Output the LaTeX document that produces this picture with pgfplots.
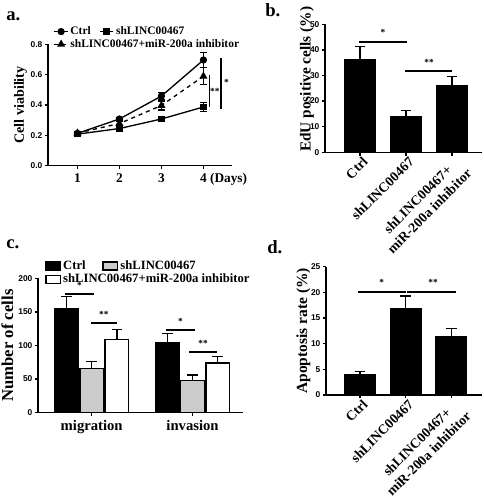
\documentclass[border=0pt]{standalone}
\usepackage{fontspec}
\setmainfont{Liberation Serif}
\newfontfamily\arialf{Liberation Sans}
\usepackage{pgfplots}
\pgfplotsset{compat=1.18}
\pgfplotsset{
  prism/.style={
    scale only axis,
    axis lines=left,
    axis line style={-, line width=1.1pt},
    tick align=outside,
    major tick length=2.5pt,
    every tick/.style={line width=1pt, black},
    /pgf/number format/assume math mode=true,
    yticklabel style={font=\arialf\bfseries\fontsize{6.3}{7}\selectfont, inner sep=1.5pt},
    clip=false,
    ymin=0,
  },
  errb/.style={error bars/.cd, y dir=plus, y explicit,
    error bar style={line width=1pt},
    error mark options={rotate=90, mark size=4pt, line width=1pt}},
  rotlab/.style={xticklabel style={rotate=45, anchor=north east, align=center, inner sep=1pt, xshift=2pt,
    font=\bfseries\fontsize{10.3}{12.5}\selectfont}},
}
\newcommand\sig{\bfseries\fontsize{7}{8}\selectfont}
\begin{document}
\begin{tikzpicture}[x=0.75pt,y=-0.75pt]
\path[use as bounding box] (0,0) rectangle (483,500);
\coordinate (A) at (48,165.7);
\coordinate (B) at (325,152.3);
\coordinate (C) at (38,412.7);
\coordinate (D) at (326,395);
% panel labels
\node[anchor=base west, inner sep=0pt, font=\bfseries\fontsize{14}{16}\selectfont] at (6,20) {a.};
\node[anchor=base west, inner sep=0pt, font=\bfseries\fontsize{14}{16}\selectfont] at (265,16) {b.};
\node[anchor=base west, inner sep=0pt, font=\bfseries\fontsize{14}{16}\selectfont] at (6,248) {c.};
\node[anchor=base west, inner sep=0pt, font=\bfseries\fontsize{14}{16}\selectfont] at (267,253) {d.};

% ---------------- panel a
\begin{axis}[prism, at={(A)}, anchor=south west, width=138pt, height=91pt,
  xmin=0.3, xmax=4.68, ymax=0.8,
  xtick={1,2,3,4}, xticklabels={1,2,3,{4\rlap{\ (Days)}}},
  xticklabel style={font=\bfseries\fontsize{10}{11}\selectfont},
  ytick={0,0.2,0.4,0.6,0.8},
  yticklabel style={/pgf/number format/.cd, fixed, fixed zerofill, precision=1},
  ylabel={Cell viability},
  ylabel style={at={(axis description cs:-0.15,0.5)}, anchor=center, font=\bfseries\fontsize{10.6}{12}\selectfont},
  legend columns=2,
  legend cell align=left,
  legend style={draw=none, fill=none, at={(axis description cs:0.03,1.165)}, anchor=north west,
    font=\bfseries\fontsize{8.6}{9}\selectfont, inner sep=0pt, row sep=-1pt,
    nodes={inner sep=1.5pt}},
  legend image code/.code={\draw[mark repeat=2,mark phase=2,#1] plot coordinates {(0pt,0pt) (5pt,0pt) (10pt,0pt)};},
]
\addplot[black, line width=1pt, mark=*, mark size=2.2pt,
  error bars/.cd, y dir=both, y explicit, error bar style={line width=0.9pt},
  error mark options={rotate=90, mark size=2.8pt, line width=0.9pt}]
  coordinates {(1,0.213) +- (0,0.01) (2,0.308) +- (0,0.01) (3,0.459) +- (0,0.025) (4,0.697) +- (0,0.05)};
\addlegendentry{Ctrl\kern5pt}
\addplot[black, line width=1pt, mark=square*, mark size=2pt,
  error bars/.cd, y dir=both, y explicit, error bar style={line width=0.9pt},
  error mark options={rotate=90, mark size=2.8pt, line width=0.9pt}]
  coordinates {(1,0.208) +- (0,0.01) (2,0.245) +- (0,0.012) (3,0.308) +- (0,0.012) (4,0.387) +- (0,0.03)};
\addlegendentry{shLINC00467}
\addplot[black, line width=1pt, dashed, mark=triangle*, mark size=2.5pt, mark options={solid},
  error bars/.cd, y dir=both, y explicit, error bar style={line width=0.9pt, solid},
  error mark options={rotate=90, mark size=2.8pt, line width=0.9pt, solid}]
  coordinates {(1,0.215) +- (0,0.01) (2,0.278) +- (0,0.015) (3,0.397) +- (0,0.03) (4,0.59) +- (0,0.055)};
\addlegendentry{\makebox[0pt][l]{shLINC00467+miR-200a inhibitor}}
\draw[line width=1.2pt] (axis cs:4.14,0.598) -- (axis cs:4.14,0.385);
\node[font=\sig] at (axis cs:4.27,0.49) {**};
\draw[line width=1.2pt] (axis cs:4.42,0.712) -- (axis cs:4.42,0.372);
\node[font=\sig] at (axis cs:4.55,0.55) {*};
\end{axis}

% ---------------- panel b
\begin{axis}[prism, rotlab, at={(B)}, anchor=south west, width=117.75pt, height=96pt,
  xmin=-0.76, xmax=2.65, ymax=50,
  xtick={0,1,2}, xticklabels={Ctrl, shLINC00467, {shLINC00467+\\miR-200a inhibitor}},
  ytick={0,10,20,30,40,50},
  ylabel={EdU positive cells (\%)},
  ylabel style={at={(axis description cs:-0.115,0.57)}, anchor=center, font=\bfseries\fontsize{11.5}{12}\selectfont},
]
\addplot[ybar, bar width=22.5pt, fill=black, draw=black, line width=1pt, errb]
  coordinates {(0,36) +- (0,5.2) (1,14.1) +- (0,2.3) (2,25.9) +- (0,3.6)};
\draw[line width=1.5pt] (axis cs:-0.02,43.1) -- (axis cs:1.02,43.1);
\node[font=\sig, anchor=south] at (axis cs:0.5,43.6) {*};
\draw[line width=1.5pt] (axis cs:0.98,31.7) -- (axis cs:2,31.7);
\node[font=\sig, anchor=south] at (axis cs:1.5,32.2) {**};
\end{axis}

% ---------------- panel c
\begin{axis}[prism, at={(C)}, anchor=south west, width=153.75pt, height=100.8pt,
  xmin=-0.532, xmax=1.5, ymax=200,
  ybar=1.3pt, bar width=17.6pt,
  xtick={0,1}, xticklabels={migration, invasion},
  xticklabel style={font=\bfseries\fontsize{11}{12}\selectfont},
  ytick={0,50,100,150,200},
  ylabel={Number of cells},
  ylabel style={at={(axis description cs:-0.15,0.5)}, anchor=center, font=\bfseries\fontsize{12.5}{13}\selectfont},
  legend columns=2,
  legend cell align=left,
  legend style={draw=none, fill=none, at={(axis description cs:0.034,1.148)}, anchor=north west,
    font=\bfseries\fontsize{9.5}{10}\selectfont, inner sep=0pt, row sep=-1pt,
    nodes={inner sep=1.5pt}},
  legend image code/.code={\draw[#1, line width=1pt] (0pt,-3pt) rectangle (11pt,3pt);},
]
\addplot[fill=black, draw=black, line width=1pt, errb]
  coordinates {(0,155) +- (0,18) (1,104.5) +- (0,13.5)};
\addlegendentry{Ctrl\kern11pt}
\addplot[fill=black!20, draw=black, line width=1pt, errb]
  coordinates {(0,66) +- (0,10) (1,47.5) +- (0,8.5)};
\addlegendentry{shLINC00467}
\addplot[fill=white, draw=black, line width=1pt, errb]
  coordinates {(0,109) +- (0,15) (1,74) +- (0,10)};
\addlegendentry{\makebox[0pt][l]{shLINC00467+miR-200a inhibitor}}
\draw[line width=1.5pt] (axis cs:-0.264,177) -- (axis cs:0.026,177);
\node[font=\sig, anchor=south] at (axis cs:-0.12,178) {*};
\draw[line width=1.5pt] (axis cs:-0.01,133) -- (axis cs:0.253,133);
\node[font=\sig, anchor=south] at (axis cs:0.12,134) {**};
\draw[line width=1.5pt] (axis cs:0.736,123) -- (axis cs:1.023,123);
\node[font=\sig, anchor=south] at (axis cs:0.88,124) {*};
\draw[line width=1.5pt] (axis cs:0.966,90.6) -- (axis cs:1.244,90.6);
\node[font=\sig, anchor=south] at (axis cs:1.105,91.6) {**};
\end{axis}

% ---------------- panel d
\begin{axis}[prism, rotlab, at={(D)}, anchor=south west, width=117pt, height=96.2pt,
  xmin=-0.74, xmax=2.67, ymax=25,
  xtick={0,1,2}, xticklabels={Ctrl, shLINC00467, {shLINC00467+\\miR-200a inhibitor}},
  ytick={0,5,10,15,20,25},
  ylabel={Apoptosis rate (\%)},
  ylabel style={at={(axis description cs:-0.145,0.5)}, anchor=center, font=\bfseries\fontsize{11.6}{12}\selectfont},
]
\addplot[ybar, bar width=23pt, fill=black, draw=black, line width=1pt, errb]
  coordinates {(0,4.03) +- (0,0.5) (1,16.9) +- (0,2.4) (2,11.36) +- (0,1.65)};
\draw[line width=1.5pt] (axis cs:-0.04,20.1) -- (axis cs:1.0,20.1);
\node[font=\sig, anchor=south] at (axis cs:0.48,20.5) {*};
\draw[line width=1.5pt] (axis cs:1.04,20.1) -- (axis cs:2.1,20.1);
\node[font=\sig, anchor=south] at (axis cs:1.6,20.5) {**};
\end{axis}
\end{tikzpicture}
\end{document}
